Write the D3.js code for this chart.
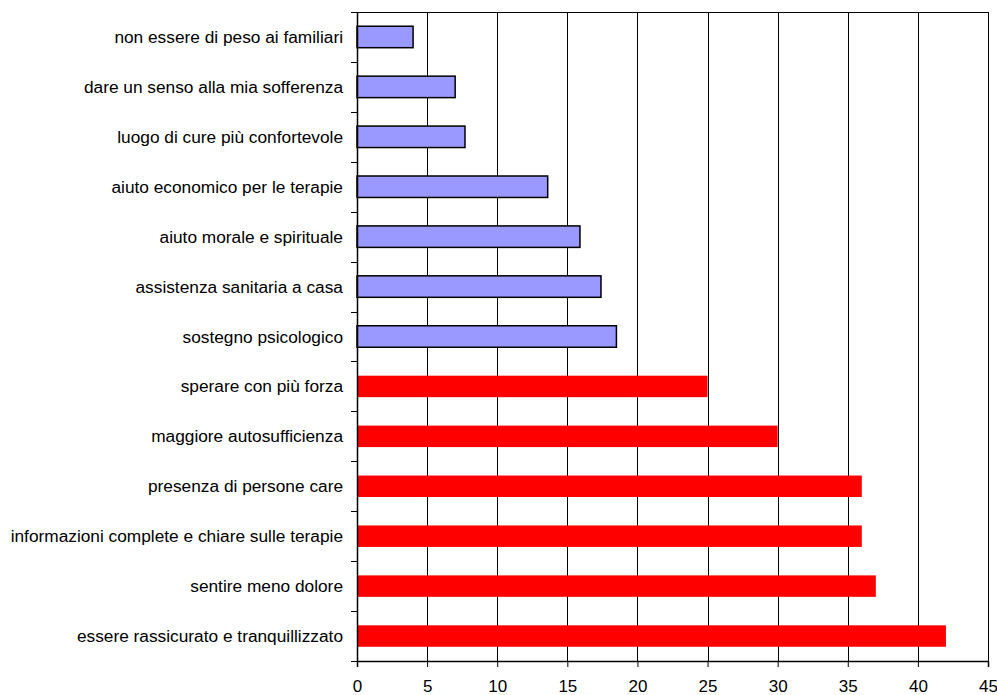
<!DOCTYPE html>
<html lang="it">
<head>
    <meta charset="UTF-8">
    <title>Bar Chart</title>
    <script src="https://d3js.org/d3.v7.min.js"></script>
    <style>
        body { margin: 0; background: #fff; }
        svg { display: block; font-family: "Liberation Sans", Arial, sans-serif; }
    </style>
</head>
<body>
<svg></svg>
<script>
    const categories = [
        "non essere di peso ai familiari",
        "dare un senso alla mia sofferenza",
        "luogo di cure più confortevole",
        "aiuto economico per le terapie",
        "aiuto morale e spirituale",
        "assistenza sanitaria a casa",
        "sostegno psicologico",
        "sperare con più forza",
        "maggiore autosufficienza",
        "presenza di persone care",
        "informazioni complete e chiare sulle terapie",
        "sentire meno dolore",
        "essere rassicurato e tranquillizzato"
    ];
    const values = [4.0, 7.0, 7.7, 13.6, 15.9, 17.4, 18.5, 25, 30, 36, 36, 37, 42];
    // first 7 rows are drawn in blue, the rest in red
    const groups = ["b", "b", "b", "b", "b", "b", "b", "r", "r", "r", "r", "r", "r"];
    const xTicks = [0, 5, 10, 15, 20, 25, 30, 35, 40, 45];

    const width = 997, height = 695;
    const margins = {top: 12, right: 9, bottom: 34, left: 357};
    const innerW = width - margins.left - margins.right;
    const innerH = height - margins.top - margins.bottom;

    let svg = d3.select("svg").attr("width", width).attr("height", height);
    const g = svg.append("g").attr("transform", "translate(" + margins.left + "," + margins.top + ")");

    const x = d3.scaleLinear().domain([0, 45]).range([0, innerW]);
    const y = d3.scaleBand().domain(categories).range([0, innerH]).paddingInner(0.57).paddingOuter(0.285);

    // vertical gridlines
    g.selectAll("line.grid")
        .data(xTicks.slice(1))
        .enter().append("line")
        .attr("class", "grid")
        .attr("x1", d => Math.round(x(d)) + 0.5)
        .attr("x2", d => Math.round(x(d)) + 0.5)
        .attr("y1", 0)
        .attr("y2", innerH)
        .attr("stroke", "#000")
        .attr("stroke-width", 1);

    // top frame line
    g.append("line")
        .attr("x1", 0).attr("x2", innerW + 0.5)
        .attr("y1", 0.5).attr("y2", 0.5)
        .attr("stroke", "#000");

    // bars
    g.selectAll("rect.bar")
        .data(categories)
        .enter().append("rect")
        .attr("class", "bar")
        .attr("x", 0)
        .attr("y", d => y(d))
        .attr("width", (d, i) => x(values[i]))
        .attr("height", y.bandwidth())
        .attr("fill", (d, i) => groups[i] === "b" ? "#9999ff" : "#ff0000")
        .attr("stroke", (d, i) => groups[i] === "b" ? "#000" : "none")
        .attr("stroke-width", 1.5);

    // y axis: ticks at band boundaries
    const boundaries = categories.map((d, i) => i * y.step()).concat([innerH]);
    g.append("line")
        .attr("x1", 0.5).attr("x2", 0.5)
        .attr("y1", 0).attr("y2", innerH)
        .attr("stroke", "#000").attr("stroke-width", 1.5);
    g.selectAll("line.ytick")
        .data(boundaries)
        .enter().append("line")
        .attr("class", "ytick")
        .attr("x1", -6).attr("x2", 0)
        .attr("y1", d => Math.round(d) + 0.5)
        .attr("y2", d => Math.round(d) + 0.5)
        .attr("stroke", "#000");

    g.selectAll("text.ylabel")
        .data(categories)
        .enter().append("text")
        .attr("class", "ylabel")
        .attr("x", -14)
        .attr("y", d => y(d) + y.bandwidth() / 2)
        .attr("dy", "0.35em")
        .attr("text-anchor", "end")
        .attr("font-size", 17.3)
        .attr("fill", "#000")
        .text(d => d);

    // x axis
    const xAxis = g.append("g")
        .attr("transform", "translate(0," + innerH + ")")
        .call(d3.axisBottom(x).tickValues(xTicks).tickSize(6).tickPadding(13));
    xAxis.select(".domain").attr("stroke", "#000").attr("stroke-width", 1.5);
    xAxis.selectAll(".tick line").attr("stroke", "#000");
    xAxis.selectAll("text")
        .attr("font-size", 17)
        .attr("font-family", "Liberation Sans, Arial, sans-serif")
        .attr("fill", "#000");
</script>
</body>
</html>
